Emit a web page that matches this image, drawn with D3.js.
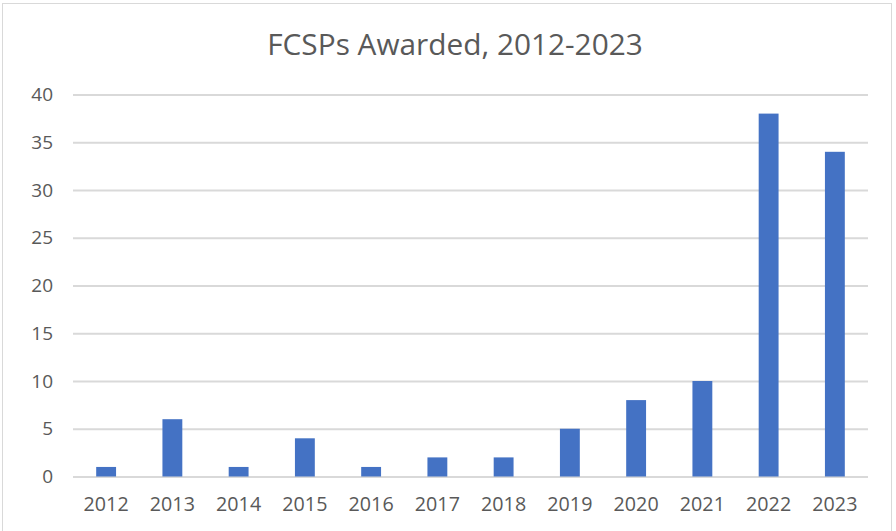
<!DOCTYPE html>
<html><head><meta charset="utf-8">
<script src="https://cdn.jsdelivr.net/npm/d3@7"></script>
<style>body{margin:0;background:#fff}svg{display:block}</style>
</head><body>
<svg id="c" width="896" height="531"></svg>
<script>
const categories = ["2012","2013","2014","2015","2016","2017","2018","2019","2020","2021","2022","2023"];
const values = [1,6,1,4,1,2,2,5,8,10,38,34];
const yTicks = [0,5,10,15,20,25,30,35,40];
const title = "FCSPs Awarded, 2012-2023";

(function(){
const svg = d3.select("#c");
const font = "'Open Sans', sans-serif";
const textColor = "#595959";

svg.append("rect").attr("x",2.5).attr("y",3.5).attr("width",889).attr("height",540)
  .attr("fill","#fff").attr("stroke","#d9d9d9").attr("stroke-width",1);

const mLeft = 73, mRight = 868, mTop = 94.5, mBottom = 476.5;
const x = d3.scaleBand().domain(categories).range([mLeft,mRight]).paddingInner(0.7).paddingOuter(0.35);
const y = d3.scaleLinear().domain([0,40]).range([mBottom,mTop]);

const yAxis = svg.append("g").attr("transform",`translate(${mLeft},0)`)
  .call(d3.axisLeft(y).tickValues(yTicks).tickSize(-(mRight-mLeft)).tickPadding(20));
yAxis.select(".domain").remove();
yAxis.selectAll(".tick line").attr("stroke","#d9d9d9").attr("stroke-width",2);
yAxis.selectAll("text").attr("fill",textColor).style("font-family",font).style("font-size","19px");

svg.append("g").selectAll("rect").data(values).join("rect")
  .attr("x",(d,i)=>x(categories[i])).attr("width",x.bandwidth())
  .attr("y",d=>y(d)).attr("height",d=>y(0)-y(d)).attr("fill","#4472c4");

const xAxis = svg.append("g").attr("transform",`translate(0,${mBottom})`)
  .call(d3.axisBottom(x).tickSize(0).tickPadding(21));
xAxis.select(".domain").remove();
xAxis.selectAll("text").attr("fill",textColor).style("font-family",font).style("font-size","19.7px");

svg.append("text").attr("x",455).attr("y",55).attr("text-anchor","middle")
  .attr("fill",textColor).style("font-family",font).style("font-size","29.8px").text(title);
})();
</script>
</body></html>
